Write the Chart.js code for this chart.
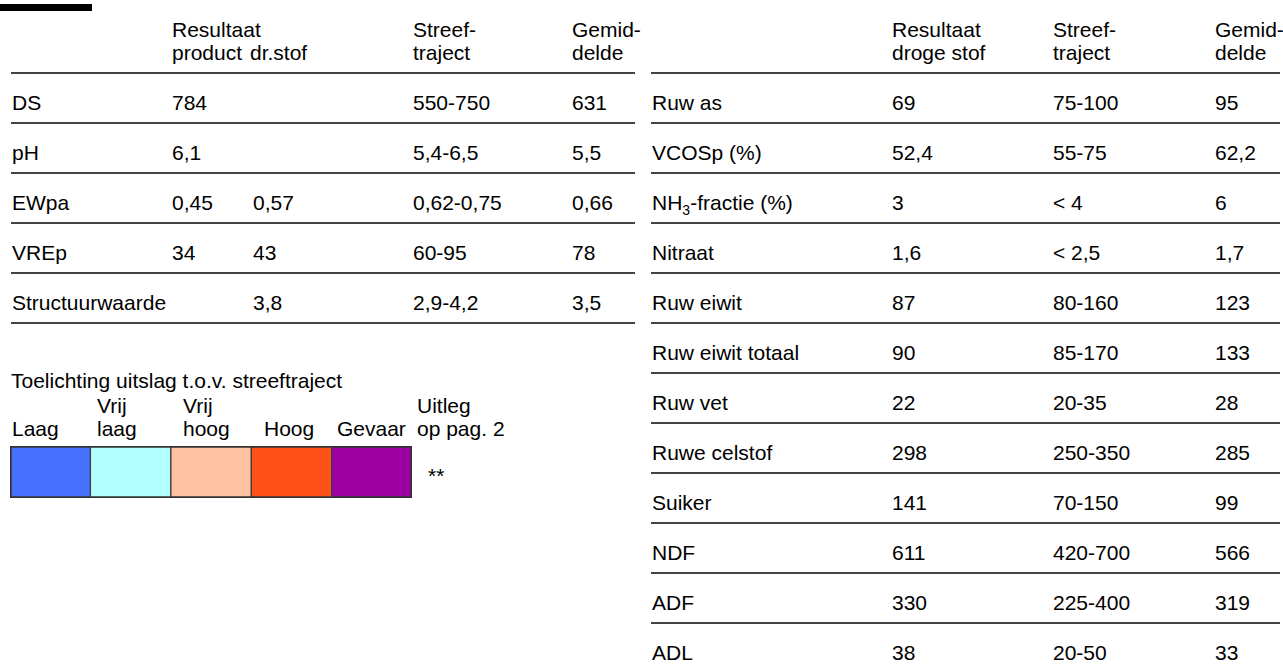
<!DOCTYPE html>
<html>
<head>
<meta charset="utf-8">
<script src="https://cdn.jsdelivr.net/npm/chart.js@4"></script>
<style>
body{margin:0;background:#fff;font-family:"Liberation Sans",Arial,sans-serif;font-size:21px;color:#000;}
#page{position:relative;width:1283px;height:666px;overflow:hidden;}
.t{position:absolute;line-height:23px;white-space:nowrap;}
.line{position:absolute;height:2px;background:#444;}
#bar{position:absolute;left:0;top:4px;width:92px;height:7px;background:#000;}
#legendBox{position:absolute;left:10px;top:446px;width:402px;height:52px;}
sub{font-size:14px;line-height:0;vertical-align:-5px;}
</style>
</head>
<body>
<div id="page">
<div id="bar"></div>
<div id="legendBox"><canvas id="legendChart"></canvas></div>
</div>
<script>
// linker tabel
const leftRows = ["DS","pH","EWpa","VREp","Structuurwaarde"];
const leftProduct = [784, 6.1, 0.45, 34, null];
const leftDrStof = [null, null, 0.57, 43, 3.8];
const leftStreef = ["550-750","5,4-6,5","0,62-0,75","60-95","2,9-4,2"];
const leftGemid = [631, 5.5, 0.66, 78, 3.5];

// rechter tabel
const rightRows = ["Ruw as","VCOSp (%)","NH<sub>3</sub>-fractie (%)","Nitraat","Ruw eiwit","Ruw eiwit totaal","Ruw vet","Ruwe celstof","Suiker","NDF","ADF","ADL"];
const rightResult = [69, 52.4, 3, 1.6, 87, 90, 22, 298, 141, 611, 330, 38];
const rightStreef = ["75-100","55-75","< 4","< 2,5","80-160","85-170","20-35","250-350","70-150","420-700","225-400","20-50"];
const rightGemid = [95, 62.2, 6, 1.7, 123, 133, 28, 285, 99, 566, 319, 33];

// legenda
const legendLabels = [["","Laag"],["Vrij","laag"],["Vrij","hoog"],["","Hoog"],["","Gevaar"]];
const legendValues = [1,1,1,1,1];
const legendColors = ["#4870fe","#b2ffff","#ffc2a2","#ff5219","#9c00a3"];

const page = document.getElementById("page");

// getal met komma
function num(v){
    if(v===null) return "";
    return String(v).replace(".", ",");
}

function text(x, baseline, html){
    const d = document.createElement("div");
    d.className = "t";
    d.style.left = x + "px";
    d.style.top = (baseline - 19) + "px";
    d.innerHTML = html;
    page.appendChild(d);
}

function line(x, y, w){
    const d = document.createElement("div");
    d.className = "line";
    d.style.left = x + "px";
    d.style.top = y + "px";
    d.style.width = w + "px";
    page.appendChild(d);
}

// koppen
text(172, 37, "Resultaat");
text(172, 60, "product");
text(250, 60, "dr.stof");
text(413, 37, "Streef-<br>traject");
text(572, 37, "Gemid-<br>delde");

text(892, 37, "Resultaat<br>droge stof");
text(1053, 37, "Streef-<br>traject");
text(1215, 37, "Gemid-<br>delde");

// rijen links
leftRows.forEach((r,i)=>{
    const b = 110 + 50*i;
    text(12, b, r);
    text(172, b, num(leftProduct[i]));
    text(253, b, num(leftDrStof[i]));
    text(413, b, leftStreef[i]);
    text(572, b, num(leftGemid[i]));
});
for(let k=0;k<=leftRows.length;k++) line(11, 72 + 50*k, 624);

// rijen rechts
rightRows.forEach((r,i)=>{
    const b = 110 + 50*i;
    text(652, b, r);
    text(892, b, num(rightResult[i]));
    text(1053, b, rightStreef[i]);
    text(1215, b, num(rightGemid[i]));
    line(651, 72 + 50*i, 629);
});

// legenda teksten
text(11, 388, "Toelichting uitslag t.o.v. streeftraject");
const labelX = [12, 97, 183, 264, 337];
legendLabels.forEach((l,i)=>{
    text(labelX[i], 413, l[0]);
    text(labelX[i], 436, l[1]);
});
text(417, 413, "Uitleg");
text(417, 436, "op pag. 2");
text(428, 483, "**");

// gekleurde balk
new Chart(document.getElementById("legendChart"),{
    type:"bar",
    data:{
        labels:["uitslag"],
        datasets: legendLabels.map((l,i)=>({
            label: l.join(" ").trim(),
            data:[legendValues[i]],
            backgroundColor: legendColors[i],
            borderColor:"#333",
            borderWidth:{top:2,bottom:2,left:i===0?2:1,right:i===legendLabels.length-1?2:1},
            borderSkipped:false,
            barPercentage:1,
            categoryPercentage:1
        }))
    },
    options:{
        indexAxis:"y",
        responsive:true,
        maintainAspectRatio:false,
        animation:false,
        layout:{padding:0},
        plugins:{
            legend:{display:false},
            tooltip:{enabled:false}
        },
        scales:{
            x:{stacked:true,display:false,min:0,max:legendValues.length},
            y:{stacked:true,display:false}
        }
    }
});
</script>
</body>
</html>
